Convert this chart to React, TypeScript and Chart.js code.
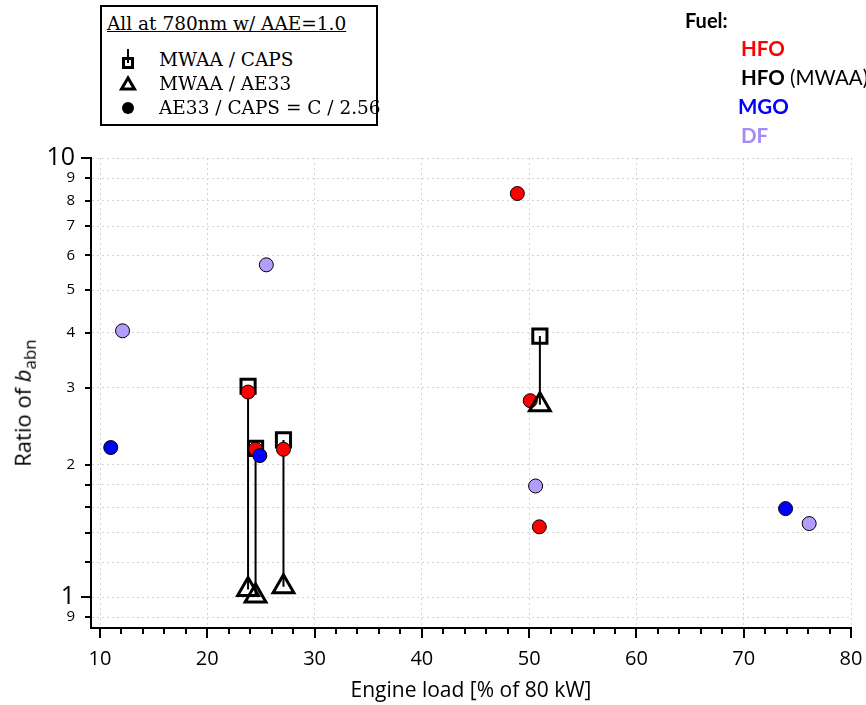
import React, { useEffect, useRef } from 'react';
import { Chart, registerables } from 'chart.js';

Chart.register(...registerables);

// Engine load [% of 80 kW] and ratio of b_abn
const hfoLoad = [48.9, 23.8, 24.5, 27.1, 50.1, 50.95];
const hfoRatio = [8.3, 2.93, 2.17, 2.17, 2.8, 1.445];
const mgoLoad = [11.0, 24.9, 73.9];
const mgoRatio = [2.19, 2.1, 1.59];
const dfLoad = [12.1, 25.5, 50.6, 76.1];
const dfRatio = [4.04, 5.71, 1.79, 1.47];
const mwaaLoad = [23.8, 24.5, 27.1, 51.0];
const mwaaCapsRatio = [3.02, 2.18, 2.28, 3.93];
const mwaaAe33Ratio = [1.04, 1.005, 1.055, 2.74];

const xTicks = [10, 12, 14, 16, 18, 20, 22, 24, 26, 28, 30, 32, 34, 36, 38, 40, 42, 44, 46, 48, 50, 52, 54, 56, 58, 60, 62, 64, 66, 68, 70, 72, 74, 76, 78, 80];
const xMajorTicks = [10, 20, 30, 40, 50, 60, 70, 80];
const yTicks = [0.9, 1, 1.2, 1.4, 1.6, 1.8, 2, 3, 4, 5, 6, 7, 8, 9, 10];
const yTickLabels = ['9', '1', '', '', '', '', '2', '3', '4', '5', '6', '7', '8', '9', '10'];
const yMajorTicks = [1, 10];

const AXIS_FONT = "'Open Sans', 'Noto Sans', sans-serif";
const GRID_COLOR = '#d4d4d4';

const tickMarksPlugin = {
  id: 'tickMarks',
  afterDraw(chart: any) {
    const ctx = chart.ctx;
    const xs = chart.scales.x;
    const ys = chart.scales.y;
    const { left, bottom } = chart.chartArea;
    ctx.save();
    ctx.strokeStyle = '#000';
    ctx.lineWidth = 2;
    ctx.beginPath();
    xTicks.forEach((v) => {
      const px = Math.round(xs.getPixelForValue(v));
      const len = xMajorTicks.includes(v) ? 10 : 6;
      ctx.moveTo(px, bottom);
      ctx.lineTo(px, bottom + len);
    });
    yTicks.forEach((v) => {
      const py = Math.round(ys.getPixelForValue(v));
      const len = yMajorTicks.includes(v) ? 10 : 6;
      ctx.moveTo(left - len, py);
      ctx.lineTo(left, py);
    });
    ctx.stroke();
    ctx.restore();
  },
};

function ChartCanvas() {
  const ref = useRef<HTMLCanvasElement | null>(null);
  useEffect(() => {
    if (!ref.current) return;
    const pts = (xs: number[], ys: number[]) => xs.map((x, i) => ({ x, y: ys[i] }));
    const connectors = mwaaLoad.map((x, i) => ({
      data: [
        { x, y: mwaaCapsRatio[i] },
        { x, y: mwaaAe33Ratio[i] },
      ],
      showLine: true,
      borderColor: '#000',
      borderWidth: 2,
      pointRadius: 0,
      pointHoverRadius: 0,
    }));
    const chart = new Chart(ref.current, {
      type: 'scatter',
      data: {
        datasets: [
          {
            label: 'MWAA / AE33',
            data: pts(mwaaLoad, mwaaAe33Ratio),
            pointStyle: 'triangle',
            pointRadius: 12,
            borderWidth: 3,
            borderColor: '#000',
            backgroundColor: 'rgba(255,255,255,0)',
          },
          {
            label: 'MGO',
            data: pts(mgoLoad, mgoRatio),
            pointRadius: 7,
            borderWidth: 1,
            borderColor: '#000',
            backgroundColor: '#0000ff',
          },
          {
            label: 'HFO',
            data: pts(hfoLoad, hfoRatio),
            pointRadius: 7,
            borderWidth: 1,
            borderColor: '#000',
            backgroundColor: '#ff0000',
          },
          {
            label: 'DF',
            data: pts(dfLoad, dfRatio),
            pointRadius: 7,
            borderWidth: 1,
            borderColor: '#000',
            backgroundColor: '#b39dfb',
          },
          {
            label: 'MWAA / CAPS',
            data: pts(mwaaLoad, mwaaCapsRatio),
            pointStyle: 'rect',
            pointRadius: 10,
            borderWidth: 3,
            borderColor: '#000',
            backgroundColor: 'rgba(255,255,255,0)',
          },
          ...connectors,
        ] as any,
      },
      options: {
        animation: false,
        responsive: false,
        layout: { padding: { left: 0, right: 11, top: 158, bottom: 0 } },
        plugins: { legend: { display: false }, tooltip: { enabled: false } },
        scales: {
          x: {
            type: 'linear',
            min: 9.16,
            max: 80,
            afterBuildTicks: (s: any) => {
              s.ticks = xTicks.map((v) => ({ value: v }));
            },
            afterFit: (s: any) => {
              s.height = 77;
              s.paddingLeft = 0;
              s.paddingRight = 0;
            },
            ticks: {
              autoSkip: false,
              maxRotation: 0,
              padding: 19,
              color: '#000',
              font: { family: AXIS_FONT, size: 20 },
              callback: (v: any) => (xMajorTicks.includes(v) ? String(v) : ''),
            },
            grid: {
              drawTicks: false,
              color: (c: any) => (c.tick && xMajorTicks.includes(c.tick.value) ? GRID_COLOR : 'rgba(0,0,0,0)'),
              lineWidth: 1,
            },
            border: { display: true, color: '#000', width: 2, dash: [2, 3] },
            title: {
              display: true,
              text: 'Engine load [% of 80 kW]',
              color: '#000',
              font: { family: AXIS_FONT, size: 21 },
              padding: { top: 0, bottom: 1 },
            },
          },
          y: {
            type: 'logarithmic',
            min: 0.85,
            max: 10,
            afterBuildTicks: (s: any) => {
              s.ticks = yTicks.map((v) => ({ value: v }));
            },
            afterFit: (s: any) => {
              s.width = 91;
              s.paddingTop = 0;
              s.paddingBottom = 0;
            },
            ticks: {
              autoSkip: false,
              padding: 16,
              color: '#000',
              font: (c: any) => ({
                family: AXIS_FONT,
                size: c.tick && yMajorTicks.includes(c.tick.value) ? 25 : 15,
              }),
              callback: (v: any) => {
                const i = yTicks.indexOf(v);
                return i >= 0 ? yTickLabels[i] : '';
              },
            },
            grid: {
              drawTicks: false,
              color: GRID_COLOR,
              lineWidth: 1,
            },
            border: { display: true, color: '#000', width: 2, dash: [2, 3] },
          },
        },
      } as any,
      plugins: [tickMarksPlugin],
    });
    return () => chart.destroy();
  }, []);
  return <canvas ref={ref} width={866} height={705} style={{ position: 'absolute', left: 0, top: 0 }} />;
}

const SERIF = "'DejaVu Serif', 'Liberation Serif', serif";
const FUEL_FONT = "Lato, 'Open Sans', sans-serif";

export default function App() {
  const legendRow = (top: number, text: string) => (
    <div style={{ position: 'absolute', left: 57, top, fontFamily: SERIF, fontSize: 18.5, lineHeight: '24px', whiteSpace: 'nowrap' }}>{text}</div>
  );
  const fuelItem = (top: number, left: number, color: string, bold: string, rest?: string) => (
    <div style={{ position: 'absolute', left, top, fontFamily: FUEL_FONT, fontSize: 20.5, lineHeight: '24px', whiteSpace: 'nowrap', color }}>
      <span style={{ fontWeight: 700 }}>{bold}</span>
      {rest ? <span style={{ fontWeight: 400, color: '#000' }}>{rest}</span> : null}
    </div>
  );
  return (
    <div style={{ position: 'absolute', left: 0, top: 0, width: 866, height: 705, overflow: 'hidden', background: '#fff' }}>
      <ChartCanvas />
      {/* y axis title */}
      <div
        style={{
          position: 'absolute',
          left: 24,
          top: 403,
          transform: 'translate(-50%, -50%) rotate(-90deg)',
          fontFamily: AXIS_FONT,
          fontSize: 22,
          whiteSpace: 'nowrap',
          color: '#000',
        }}
      >
        Ratio of <i>b</i>
        <sub style={{ fontSize: 17 }}>abn</sub>
      </div>
      {/* instrument legend box */}
      <div
        style={{
          position: 'absolute',
          left: 100,
          top: 5,
          width: 278,
          height: 121,
          border: '2px solid #000',
          boxSizing: 'border-box',
          background: '#fff',
        }}
      >
        <div style={{ position: 'absolute', left: 5, top: 5, fontFamily: SERIF, fontSize: 18.5, lineHeight: '24px', textDecoration: 'underline', whiteSpace: 'nowrap' }}>
          All at 780nm w/ AAE=1.0
        </div>
        <svg style={{ position: 'absolute', left: 0, top: 0 }} width={60} height={117}>
          <line x1={26} y1={42} x2={26} y2={56} stroke="#000" strokeWidth={2} />
          <rect x={21.5} y={51.5} width={9} height={9} fill="none" stroke="#000" strokeWidth={3} />
          <polygon points="26,71 19.5,82 32.5,82" fill="none" stroke="#000" strokeWidth={3} strokeLinejoin="miter" />
          <circle cx={26} cy={101} r={6} fill="#000" />
        </svg>
        {legendRow(41, 'MWAA / CAPS')}
        {legendRow(65, 'MWAA / AE33')}
        {legendRow(89, 'AE33 / CAPS = C / 2.56')}
      </div>
      {/* fuel legend */}
      <div style={{ position: 'absolute', left: 685, top: 8, fontFamily: FUEL_FONT, fontWeight: 700, fontSize: 20, lineHeight: '24px', color: '#000' }}>Fuel:</div>
      {fuelItem(36, 741, '#ff0000', 'HFO')}
      {fuelItem(65, 741, '#000', 'HFO', ' (MWAA)')}
      {fuelItem(94, 738, '#0000ff', 'MGO')}
      {fuelItem(123, 741, '#a48cf7', 'DF')}
    </div>
  );
}
